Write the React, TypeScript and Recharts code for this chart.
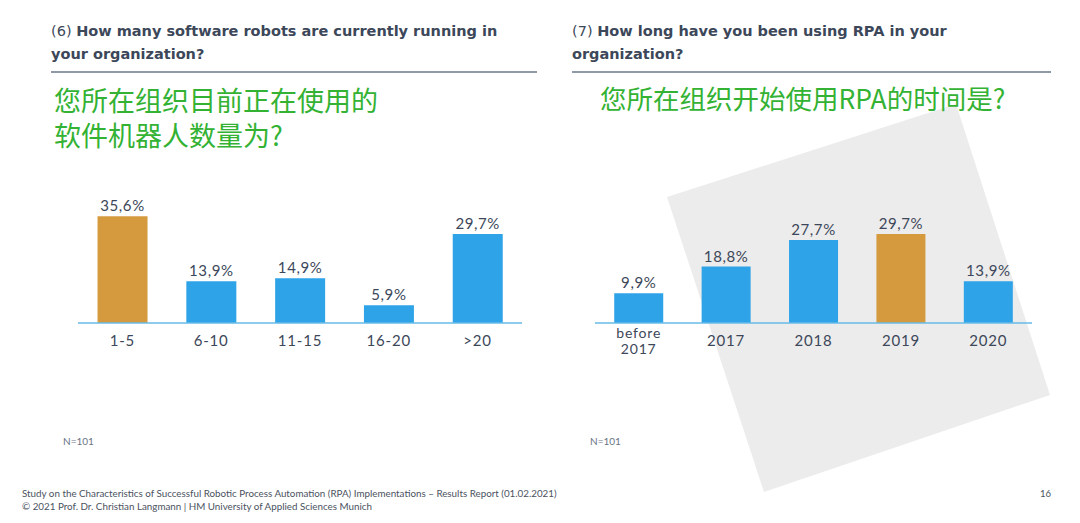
import { BarChart, Bar, XAxis, YAxis, Cell, LabelList } from "recharts";

const robotCategories = ["1-5", "6-10", "11-15", "16-20", ">20"];
const robotShares = [35.6, 13.9, 14.9, 5.9, 29.7];
const robotHighlight = "1-5";

const yearCategories = ["before 2017", "2017", "2018", "2019", "2020"];
const yearShares = [9.9, 18.8, 27.7, 29.7, 13.9];
const yearHighlight = "2019";

const yAxisTicks = [0, 10, 20, 30, 40];

const BLUE = "#2fa3e8";
const ORANGE = "#d59a3e";
const TEXT = "#3c4759";
const GREEN = "#33b233";
const FONT = "Lato, 'Noto Sans', sans-serif";
const TITLE_FONT = "'DejaVu Sans', sans-serif";

const fmt = (v: any) => `${Number(v).toFixed(1).replace(".", ",")}%`;

function CategoryTick(props: any) {
  const { x, y, payload } = props;
  const words = String(payload.value).split(" ");
  const multi = words.length > 1;
  const start = multi ? y + 9 : y + 17;
  return (
    <g>
      {words.map((w, i) => (
        <text
          key={i}
          x={x}
          y={start + i * 16}
          textAnchor="middle"
          fill={TEXT}
          fontSize={multi ? 14 : 15}
          letterSpacing={0.8}
          fontFamily={FONT}
        >
          {w}
        </text>
      ))}
    </g>
  );
}

function SurveyBars({ categories, values, highlight, width }: any) {
  const data = categories.map((c: string, i: number) => ({ name: c, share: values[i] }));
  return (
    <BarChart
      width={width}
      height={190}
      data={data}
      margin={{ top: 23, right: 0, bottom: 0, left: 0 }}
      barCategoryGap="22%"
    >
      <YAxis hide domain={[0, 40]} ticks={yAxisTicks} />
      <XAxis
        dataKey="name"
        height={47}
        tickLine={false}
        tickMargin={0}
        axisLine={{ stroke: "#69bbe9", strokeWidth: 1.5 }}
        tick={<CategoryTick />}
        interval={0}
      />
      <Bar dataKey="share" isAnimationActive={false}>
        {data.map((d: any) => (
          <Cell key={d.name} fill={d.name === highlight ? ORANGE : BLUE} />
        ))}
        <LabelList
          dataKey="share"
          position="top"
          offset={5}
          formatter={fmt}
          fill={TEXT}
          fontSize={15}
          letterSpacing={0.6}
          fontFamily={FONT}
        />
      </Bar>
    </BarChart>
  );
}

function Heading({ num, lines, left }: any) {
  return (
    <div
      style={{
        position: "absolute",
        left,
        top: 20,
        fontFamily: TITLE_FONT,
        fontSize: 14.5,
        lineHeight: "23px",
        color: TEXT,
        whiteSpace: "nowrap",
      }}
    >
      <div>
        <span style={{ fontWeight: 400 }}>{num}</span> <b>{lines[0]}</b>
      </div>
      <div>
        <b>{lines[1]}</b>
      </div>
    </div>
  );
}

const cjk: any = {
  position: "absolute",
  fontFamily: "'Noto Sans CJK SC', sans-serif",
  fontSize: 27,
  lineHeight: "30px",
  color: GREEN,
  whiteSpace: "nowrap",
};

export default function App() {
  return (
    <div
      style={{
        position: "absolute",
        left: 0,
        top: 0,
        width: 1080,
        height: 523,
        background: "#fff",
        overflow: "hidden",
      }}
    >
      <svg width={1080} height={523} style={{ position: "absolute", left: 0, top: 0 }}>
        <polygon points="667,197 956,104 1050,395 764,492" fill="#ececec" />
        <line x1={51} y1={72} x2={537} y2={72} stroke="#6b778b" strokeWidth={1.5} />
        <line x1={572} y1={72} x2={1051} y2={72} stroke="#6b778b" strokeWidth={1.5} />
      </svg>

      <Heading
        num="(6)"
        lines={["How many software robots are currently running in", "your organization?"]}
        left={51}
      />
      <Heading num="(7)" lines={["How long have you been using RPA in your", "organization?"]} left={572} />

      <div style={{ ...cjk, left: 54, top: 85 }}>您所在组织目前正在使用的</div>
      <div style={{ ...cjk, left: 54, top: 120 }}>软件机器人数量为?</div>
      <div style={{ ...cjk, left: 600, top: 83, fontSize: 26.5 }}>您所在组织开始使用RPA的时间是?</div>

      <div style={{ position: "absolute", left: 78, top: 180 }}>
        <SurveyBars categories={robotCategories} values={robotShares} highlight={robotHighlight} width={444} />
      </div>
      <div style={{ position: "absolute", left: 595, top: 180 }}>
        <SurveyBars categories={yearCategories} values={yearShares} highlight={yearHighlight} width={437} />
      </div>

      <div style={{ position: "absolute", left: 63, top: 435, fontSize: 10, fontFamily: FONT, color: "#6b7585" }}>N=101</div>
      <div style={{ position: "absolute", left: 590, top: 435, fontSize: 10, fontFamily: FONT, color: "#6b7585" }}>N=101</div>

      <div
        style={{
          position: "absolute",
          left: 22,
          top: 487,
          fontSize: 9.8,
          lineHeight: "13px",
          fontFamily: FONT,
          color: "#4a5260",
          whiteSpace: "nowrap",
        }}
      >
        Study on the Characteristics of Successful Robotic Process Automation (RPA) Implementations – Results Report (01.02.2021)
        <br />© 2021 Prof. Dr. Christian Langmann | HM University of Applied Sciences Munich
      </div>
      <div style={{ position: "absolute", left: 1040, top: 488, fontSize: 9.5, fontFamily: FONT, color: "#4a5260" }}>16</div>
    </div>
  );
}
